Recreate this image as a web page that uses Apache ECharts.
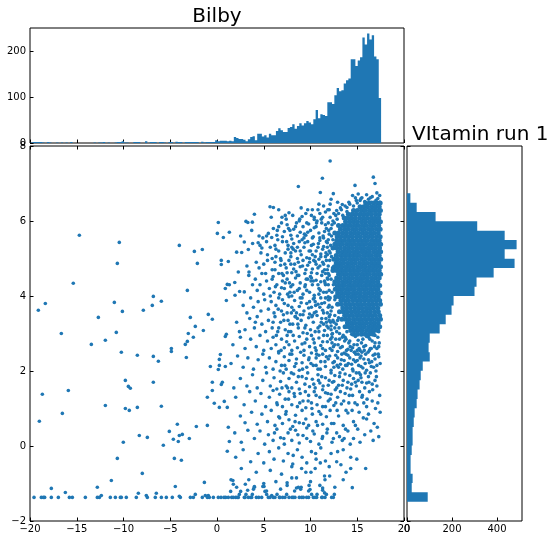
<!DOCTYPE html>
<html><head><meta charset="utf-8">
<script src="https://cdn.jsdelivr.net/npm/echarts@6/dist/echarts.min.js"></script>
<style>html,body{margin:0;padding:0;background:#fff}#c{width:556px;height:541px}</style>
</head><body><div id="c"></div>
<script>
const topTitle = 'Bilby';
const sideTitle = 'VItamin run 1';
const BLUE = '#1f77b4';

// top histogram (x = Bilby), 150 bins of width 0.25 starting at -19.95
const topBinStart = -19.95;
const topBinWidth = 0.25;
const topCounts = [
 1,2,2,2,2,1,0,2,1,0, 0,1,0,1,0,1,0,2,0,0, 0,0,0,0,0,0,0,1,0,1, 1,2,0,1,0,0,1,2,2,4,
 1,1,0,0,2,2,2,0,0,4, 0,2,2,2,0,2,2,1,0,2, 2,0,3,2,2,0,2,2,2,2, 2,2,0,3,1,2,2,2,2,6,
 4,5,5,5,4,5,4,13,11,9, 9,7,4,8,13,15,6,20,20,14, 17,12,20,17,17,26,32,28,24,24,
 33,35,41,31,37,43,38,43,48,45, 41,52,72,54,63,61,59,89,89,85,
 104,120,113,115,130,137,141,183,183,168, 180,187,230,215,239,226,235,189,183,98
];
// right histogram (y = VItamin), 33 bins from bottom
const rightBinStart = -1.485;
const rightBinWidth = 0.2492;
const rightCounts = [92,21,25,16,16,21,25,25,30,34,43,47,56,61,70,101,96,101,145,172,198,207,300,309,385,478,434,487,434,312,127,43,15];

// axis ranges [min, max, interval]
const xRange = [-20, 20, 5];
const yRange = [-2, 8, 2];
const topCountRange = [0, 251, 100];
const rightCountRange = [0, 511, 200];

// scatter points [bilby, vitamin]
const leftPts = [[-19.11,3.62],[-19.0,0.66],[-18.68,1.38],[-18.36,3.8],[-19.57,-1.37],[-18.79,-1.37],[-18.57,-1.37],[-18.43,-1.37],[-17.72,-1.13],[-17.72,-1.37],[-16.97,-1.37],[-16.65,3.0],[-16.54,0.87],[-16.22,-1.24],[-15.9,1.48],[-15.79,-1.37],[-15.47,-1.37],[-15.37,4.34],[-14.72,5.62],[-14.08,-1.37],[-13.44,2.71],[-12.8,-1.1],[-12.8,-1.37],[-12.58,-1.37],[-12.37,-1.32],[-12.69,3.43],[-11.94,2.82],[-11.94,1.08],[-11.3,-0.92],[-11.41,-1.37],[-10.98,3.83],[-10.87,-1.37],[-10.77,3.03],[-10.66,4.87],[-10.66,-0.33],[-10.45,5.43],[-10.34,-1.37],[-10.23,-1.37],[-10.23,2.5],[-10.12,3.59],[-10.02,0.1],[-9.8,1.75],[-9.8,1.0],[-9.7,-1.37],[-9.48,1.59],[-9.38,0.95],[-9.27,1.54],[-8.63,-1.37],[-8.52,2.42],[-8.52,1.03],[-8.41,-1.26],[-8.31,0.28],[-7.99,-0.73],[-7.88,3.62],[-7.56,-1.32],[-7.45,-1.37],[-7.45,0.23],[-6.92,3.75],[-6.81,3.99],[-6.81,2.39],[-6.81,1.7],[-6.6,-1.37],[-6.49,-1.26],[-6.27,2.26],[-5.95,3.86],[-5.95,1.06],[-5.95,-1.37],[-5.74,0.02],[-5.42,-1.37],[-5.1,0.39],[-4.88,2.6],[-4.88,2.52],[-4.78,-1.37],[-4.67,0.18],[-4.56,-0.33],[-4.46,-1.08],[-4.24,0.58],[-4.14,0.12],[-4.03,5.35],[-4.03,0.28],[-4.03,-1.34],[-3.92,-1.37],[-3.81,-0.38],[-3.71,0.31],[-3.39,2.71],[-3.28,2.36],[-3.17,4.15],[-3.17,2.79],[-3.07,3.0],[-2.96,0.2],[-2.85,3.43],[-2.85,-1.37],[-2.53,-1.37],[-2.53,2.9],[-2.42,5.19],[-2.32,3.19],[-2.32,-1.29],[-2.21,0.52],[-2.1,4.87],[-1.57,5.24],[-1.57,-1.37],[-1.46,3.08],[-1.35,-0.97],[-1.25,-1.32],[-1.03,-1.37],[-0.93,-1.32],[-0.82,-1.37],[-1.03,0.55],[-1.03,1.3],[-0.93,3.51],[-0.71,2.12],[-0.5,3.38],[-0.5,1.7],[-0.5,1.48],[-0.39,-1.37],[-0.29,1.14],[0.04,5.67],[0.14,5.96],[0.14,2.04],[0.25,2.31],[0.25,2.15],[0.25,1.03],[0.36,2.44],[0.46,4.95],[0.46,4.84],[0.46,1.64],[0.57,1.7],[0.68,5.56],[0.78,1.19],[0.89,4.2],[0.89,2.12],[0.89,2.92],[1.0,3.88],[1.0,2.98],[1.1,4.31],[1.1,1.03],[1.21,4.92],[1.21,0.5],[1.32,5.7],[1.32,4.3],[1.32,0.12],[1.1,-0.14]];

const floorPts = [[0.14,-1.37],[0.43,-1.37],[0.75,-1.37],[0.93,-1.37],[1.21,-1.37],[1.46,-1.21],[1.57,-1.37],[1.74,-1.37],[2.0,-1.37],[2.17,-1.37],[2.28,-1.37],[2.39,-1.29],[2.53,-1.21],[2.92,-1.37],[3.0,-1.37],[3.1,-1.29],[3.28,-1.18],[3.35,-1.37],[3.6,-1.37],[3.71,-1.37],[3.78,-1.29],[4.0,-1.08],[4.21,-1.37],[4.46,-1.37],[4.78,-1.37],[5.03,-1.08],[5.13,-1.21],[5.31,-1.29],[5.49,-1.37],[5.67,-1.37],[5.85,-1.32],[6.02,-1.37],[6.2,-1.37],[6.42,-1.29],[6.67,-1.37],[6.74,-1.37],[7.02,-1.37],[7.27,-1.37],[7.45,-1.29],[7.7,-1.37],[8.02,-1.37],[8.16,-1.37],[8.34,-1.37],[8.7,-1.1],[8.8,-1.37],[9.06,-1.37],[9.23,-1.37],[9.59,-1.37],[9.8,-1.37],[9.95,-1.16],[10.12,-1.29],[10.3,-1.37],[10.48,-1.37],[10.66,-1.37],[10.7,-1.29],[11.2,-1.37],[11.27,-1.37],[11.55,-1.37],[11.7,-1.29],[12.26,-1.37],[12.44,-1.37],[12.55,-1.29],[1.7,-0.92],[1.75,-1.02],[3.03,-1.02],[4.0,-1.1],[4.9,-1.08],[7.5,-0.98],[8.0,-0.85],[8.5,-1.12],[8.95,-1.15],[9.85,-1.05],[11.3,-1.12],[11.5,-1.25],[14.47,-1.11]];

const upperPts = [[12.1,7.6],[11.27,7.14],[16.72,7.17],[16.9,7.0],[8.7,6.92],[11.05,6.76],[14.76,6.95],[12.44,6.73],[14.5,6.68],[14.8,6.62],[15.1,6.72],[15.5,6.62],[15.3,6.55],[12.2,6.58],[16.2,6.58],[16.5,6.5],[17.2,6.6],[13.4,6.44],[13.9,6.36],[5.67,6.38],[6.03,6.36],[4.0,6.18],[7.7,6.22],[9.1,6.12],[10.1,6.15],[10.4,6.04],[11.0,6.2],[11.6,6.24],[12.0,6.3],[12.8,6.28],[13.2,6.35],[14.2,6.45],[14.6,6.4],[15.0,6.48],[15.8,6.52],[16.4,6.62],[17.0,6.55],[17.4,6.5],
[3.1,5.99],[3.78,5.97],[3.3,5.96],[4.5,5.6],[3.71,5.75],[2.53,5.6],[5.49,5.67],[5.85,5.56],[6.03,5.8],[6.6,5.85],[6.9,5.95],[7.2,5.72],[7.5,5.9],[7.9,5.62],[8.2,5.78],[8.5,5.95],[8.9,5.7],[9.2,5.85],[9.5,5.62],[9.8,5.92],[10.0,5.75],[10.3,5.58],[10.6,5.85],[10.9,5.68],[11.2,5.95],[11.4,5.55],[11.7,5.8],[12.0,5.65],[12.3,5.9],[6.4,5.62],[8.0,5.52],[9.3,5.55],[7.0,5.58],[10.7,6.0],
[2.92,5.44],[3.81,5.4],[3.35,5.24],[2.1,5.17],[2.64,5.16],[4.6,5.35],[4.8,5.28],[4.7,5.15],[4.4,5.42],[5.4,5.1],[5.9,5.0],[5.3,5.45],[6.2,5.35],[6.6,5.2],[6.3,5.05],[7.0,5.45],[7.3,5.15],[7.6,5.35],[7.9,5.05],[8.2,5.4],[8.4,5.2],[8.8,5.45],[9.0,5.1],[9.3,5.3],[9.6,5.02],[9.7,5.45],[10.0,5.2],[10.3,5.38],[10.5,5.05],[10.8,5.3],[11.0,5.48],[11.1,5.12],[11.4,5.32],[11.6,5.05],[11.8,5.42],[12.0,5.2],[6.8,5.0],[8.6,5.0],[9.9,5.0],[5.7,5.3],[10.2,5.1],
[3.42,4.64],[2.28,4.64],[3.2,4.8],[4.2,4.9],[4.5,4.75],[4.8,4.6],[5.0,4.85],[5.4,4.95],[5.2,4.6],[5.9,4.7],[6.2,4.9],[6.6,4.6],[6.8,4.82],[7.1,4.55],[7.4,4.75],[7.7,4.95],[8.0,4.62],[8.3,4.85],[8.6,4.55],[8.9,4.78],[9.2,4.95],[9.4,4.6],[9.7,4.82],[10.0,4.52],[10.2,4.72],[10.5,4.92],[10.7,4.6],[11.0,4.8],[11.2,4.55],[11.5,4.7],[11.7,4.95],[11.9,4.6],[6.0,4.52],[7.9,4.85],[9.9,4.9],[10.9,4.98],[11.3,4.9],
[1.9,4.36],[2.42,4.12],[2.92,4.11],[1.93,4.02],[3.8,4.3],[4.1,4.45],[4.3,4.15],[4.6,4.3],[5.0,4.05],[5.3,4.4],[5.6,4.2],[5.9,4.45],[6.1,4.1],[6.4,4.3],[6.7,4.05],[7.0,4.4],[7.2,4.2],[7.5,4.45],[7.8,4.1],[8.1,4.3],[8.4,4.48],[8.6,4.15],[8.9,4.35],[9.2,4.05],[9.4,4.25],[9.7,4.45],[9.9,4.1],[10.2,4.3],[10.4,4.02],[10.6,4.42],[10.9,4.2],[11.1,4.38],[11.4,4.1],[11.6,4.3],[11.8,4.48],[12.0,4.15],[8.0,4.0],[6.9,4.22],[10.1,4.48]];

const middlePts = [[3.2,3.55],[3.6,3.95],[3.9,3.7],[4.4,3.85],[4.7,3.6],[5.1,3.9],[5.5,3.65],[5.8,3.85],[6.1,3.55],[6.3,3.75],[6.6,3.95],[6.9,3.6],[7.2,3.8],[7.5,3.55],[7.7,3.98],[8.0,3.7],[8.3,3.88],[8.5,3.55],[8.8,3.72],[9.1,3.95],[9.3,3.6],[9.6,3.8],[9.9,3.52],[10.1,3.7],[10.3,3.92],[10.6,3.58],[10.8,3.78],[11.1,3.95],[11.3,3.62],[11.5,3.82],[11.8,3.55],[12.0,3.75],[7.0,3.9],[8.9,3.5],[10.5,3.85],[11.9,3.98],
[2.1,3.3],[3.0,3.1],[3.5,3.4],[4.0,3.15],[4.3,3.45],[4.8,3.25],[5.2,3.05],[5.5,3.35],[5.9,3.15],[6.2,3.45],[6.5,3.05],[6.8,3.3],[7.1,3.5],[7.3,3.1],[7.6,3.35],[7.9,3.05],[8.1,3.25],[8.4,3.45],[8.7,3.15],[9.0,3.35],[9.2,3.02],[9.5,3.22],[9.8,3.42],[10.0,3.1],[10.3,3.3],[10.5,3.05],[10.7,3.48],[11.0,3.2],[11.2,3.4],[11.5,3.08],[11.7,3.3],[12.0,3.45],[12.2,3.1],[12.5,3.3],[12.8,3.05],[13.0,3.42],[12.6,3.48],
[1.7,2.7],[2.5,2.9],[3.0,2.6],[3.6,2.85],[4.2,2.65],[4.6,2.95],[5.0,2.55],[5.4,2.8],[5.8,2.6],[6.0,2.9],[6.3,2.7],[6.6,2.52],[6.9,2.85],[7.2,2.62],[7.5,2.95],[7.7,2.7],[8.0,2.55],[8.3,2.8],[8.6,2.62],[8.8,2.92],[9.1,2.72],[9.3,2.55],[9.6,2.85],[9.9,2.65],[10.1,2.95],[10.4,2.75],[10.6,2.55],[10.9,2.88],[11.1,2.68],[11.4,2.95],[11.6,2.55],[11.8,2.78],[12.1,2.6],[12.3,2.9],[12.6,2.7],[12.9,2.52],[13.1,2.85],[13.4,2.65],[13.7,2.9],[14.0,2.58],[14.2,2.8],[14.5,2.62],[14.8,2.92],[15.0,2.7],[15.3,2.55],[15.6,2.85],[15.9,2.68],[16.2,2.9],[16.5,2.6],[16.9,2.75],[17.3,2.65],
[1.5,2.2],[2.2,2.4],[2.8,2.1],[3.3,2.35],[3.9,2.05],[4.4,2.3],[4.9,2.45],[5.2,2.1],[5.6,2.35],[6.0,2.05],[6.3,2.25],[6.6,2.48],[6.9,2.15],[7.2,2.38],[7.4,2.05],[7.7,2.28],[8.0,2.45],[8.3,2.12],[8.5,2.32],[8.8,2.02],[9.1,2.22],[9.3,2.42],[9.6,2.1],[9.8,2.3],[10.1,2.48],[10.3,2.15],[10.6,2.35],[10.8,2.05],[11.1,2.25],[11.3,2.45],[11.6,2.12],[11.9,2.32],[12.2,2.02],[12.4,2.22],[12.7,2.42],[13.0,2.1],[13.3,2.3],[13.6,2.48],[13.9,2.15],[14.2,2.35],[14.5,2.05],[14.8,2.25],[15.1,2.45],[15.4,2.12],[15.7,2.32],[16.0,2.02],[16.3,2.22],[16.7,2.42],[17.1,2.15],[17.0,2.0]];

const lowerPts = [[1.8,1.55],[2.5,1.8],[3.2,1.6],[3.8,1.9],[4.3,1.55],[4.9,1.75],[5.3,1.95],[5.7,1.6],[6.1,1.82],[6.4,1.52],[6.8,1.72],[7.1,1.95],[7.4,1.6],[7.7,1.8],[8.0,1.55],[8.2,1.92],[8.5,1.7],[8.8,1.52],[9.1,1.85],[9.4,1.65],[9.7,1.95],[9.9,1.58],[10.2,1.78],[10.5,1.55],[10.8,1.9],[11.0,1.68],[11.3,1.5],[11.6,1.82],[11.9,1.62],[12.2,1.95],[12.5,1.72],[12.8,1.55],[13.1,1.85],[13.4,1.62],[13.7,1.92],[14.0,1.7],[14.3,1.52],[14.6,1.8],[14.9,1.6],[15.2,1.95],[15.5,1.7],[15.8,1.55],[16.2,1.85],[16.6,1.65],[17.1,1.6],
[2.0,1.3],[2.9,1.1],[3.5,1.45],[4.1,1.2],[4.7,1.4],[5.2,1.05],[5.6,1.3],[6.0,1.48],[6.4,1.15],[6.7,1.38],[7.0,1.05],[7.3,1.25],[7.7,1.45],[8.0,1.1],[8.3,1.32],[8.6,1.05],[8.9,1.4],[9.2,1.2],[9.5,1.02],[9.8,1.35],[10.1,1.15],[10.4,1.45],[10.7,1.1],[11.0,1.3],[11.3,1.05],[11.6,1.42],[11.9,1.2],[12.2,1.38],[12.5,1.08],[12.9,1.3],[13.3,1.12],[13.7,1.4],[14.1,1.15],[14.5,1.35],[15.0,1.1],[15.5,1.3],[16.0,1.05],[16.6,1.2],[17.2,1.15],
[2.5,0.8],[3.0,0.62],[3.7,0.9],[4.3,0.58],[4.8,0.85],[5.4,0.65],[5.8,0.95],[6.2,0.55],[6.6,0.78],[7.0,0.6],[7.4,0.92],[7.7,0.7],[8.1,0.52],[8.4,0.82],[8.8,0.62],[9.1,0.95],[9.5,0.72],[9.8,0.55],[10.2,0.85],[10.6,0.65],[10.9,0.92],[11.3,0.58],[11.7,0.78],[12.1,0.95],[12.5,0.6],[13.0,0.8],[13.5,0.55],[14.0,0.88],[14.6,0.65],[15.2,0.9],[16.0,0.72],[16.8,0.6],
[1.9,0.35],[2.6,0.1],[3.3,0.42],[4.0,0.2],[4.6,0.4],[5.1,0.05],[5.5,0.3],[6.0,0.15],[6.4,0.45],[6.8,0.22],[7.2,0.05],[7.6,0.35],[8.0,0.15],[8.4,0.42],[8.8,0.08],[9.2,0.28],[9.6,0.48],[10.0,0.12],[10.4,0.32],[10.9,0.05],[11.3,0.25],[11.8,0.45],[12.3,0.1],[12.8,0.35],[13.4,0.15],[14.0,0.4],[14.6,0.2],[15.3,0.1],
[2.0,-0.3],[2.8,-0.1],[3.6,-0.42],[4.4,-0.2],[5.0,-0.45],[5.6,-0.15],[6.1,-0.35],[6.6,-0.05],[7.1,-0.4],[7.6,-0.2],[8.1,-0.48],[8.6,-0.1],[9.1,-0.3],[9.6,-0.45],[10.1,-0.15],[10.6,-0.35],[11.1,-0.05],[11.6,-0.4],[12.2,-0.2],[12.8,-0.42],[13.5,-0.1],[14.3,-0.3],
[2.6,-0.6],[3.4,-0.9],[4.2,-0.7],[5.0,-1.0],[5.7,-0.65],[6.3,-0.95],[6.9,-0.75],[7.5,-1.05],[8.0,-0.55],[8.5,-0.85],[9.0,-1.1],[9.5,-0.7],[10.0,-0.95],[10.5,-0.6],[11.0,-1.05],[11.5,-0.8],[12.0,-0.55],[12.6,-1.1],[13.5,-0.9],[14.3,-0.6],[1.5,-0.9],[2.1,-1.1],[3.9,-1.15],[5.3,-1.2],[6.8,-1.15],[8.3,-1.2],[9.8,-1.2],[11.3,-1.18]];

const extraPts = [[12.3,2.55],[12.7,2.85],[13.2,2.62],[13.5,2.95],[13.8,2.45],[14.1,2.75],[14.4,2.98],[14.7,2.5],[15.1,2.82],[15.4,2.4],[15.7,2.65],[16.0,2.92],[16.3,2.55],[16.6,2.8],[16.9,2.45],[17.2,2.9],[12.5,2.1],[12.9,2.35],[13.2,2.18],[13.6,2.28],[14.0,2.42],[14.4,2.18],[14.7,2.5],[15.0,2.28],[15.3,2.35],[15.6,2.08],[15.9,2.45],[16.2,2.3],[16.5,2.12],[16.9,2.32],[17.3,2.38],[12.0,1.75],[12.6,1.88],[13.0,1.62],[13.5,1.75],[14.2,1.88],[14.8,1.7],[15.4,1.82],[16.0,1.68],[16.4,1.95],[10.5,2.62],[10.9,2.42],[11.3,2.78],[11.7,2.38],[11.2,1.85],[10.6,2.15],[13.9,3.05],[14.6,3.1],[15.5,3.05],[16.5,3.0],[12.3,2.98],[15.2,2.6],
[7.4,6.05],[8.1,6.15],[8.8,6.0],[9.5,6.2],[10.2,6.3],[10.8,6.3],[11.3,6.1],[7.8,5.75],[8.6,5.6],[9.1,5.5],[9.7,5.7],[10.4,5.82],[11.0,5.55],[11.5,5.72],[7.6,5.25],[8.0,5.3],[8.9,5.2],[9.4,5.42],[10.1,5.35],[10.6,5.2],[11.3,5.25],[11.8,5.1],[7.5,4.62],[8.2,4.72],[8.7,4.9],[9.5,4.7],[10.1,4.62],[10.8,4.75],[11.4,4.85],[11.9,4.8],[7.3,4.35],[7.9,4.25],[8.8,4.2],[9.6,4.15],[10.3,4.4],[10.9,4.05],[11.5,4.4],[11.9,4.3],[7.6,3.75],[8.2,3.62],[9.0,3.82],[9.8,3.68],[10.4,3.55],[11.0,3.7],[11.6,3.95],[11.2,3.8],[7.8,3.25],[8.6,3.4],[9.4,3.15],[10.2,3.48],[10.8,3.15],[11.4,3.25],[11.9,3.15],[12.2,3.6],[12.4,3.35],[6.5,5.5],[6.2,4.7],[5.7,4.0],[6.0,3.3],[5.3,5.6],[4.9,5.55],[5.8,6.1],[6.6,6.3],[9.0,6.35],[3.4,4.55],[2.8,3.75],[4.1,3.3],[2.4,3.05],
[11.9,5.95],[12.1,6.1],[12.4,6.0],[12.7,6.15],[13.0,6.2],[13.3,6.3],[13.7,6.4],[14.1,6.5],[14.9,6.55],[15.4,6.6],[16.0,6.7],[16.6,6.65],[17.1,6.75],[17.4,6.68],[11.8,5.3],[11.6,4.6],[11.7,4.1],[11.9,3.7],[12.1,3.5],[12.2,3.2],[12.6,3.15],[12.9,3.35],[13.1,3.0],[13.4,2.9],[13.8,2.85],[16.9,2.95],[17.3,3.05]];

const fillPts = [[6.15,0.35],[6.45,1.1],[6.75,2.0],[6.35,2.95],[6.55,3.65],[6.25,4.25],[6.85,4.95],[6.45,5.75],[6.95,6.1],[6.7,0.75],[6.95,1.55],[6.85,2.55],[6.6,3.15],[6.95,4.6],[6.3,5.25],
[7.15,0.2],[7.35,0.85],[7.55,1.55],[7.25,2.15],[7.45,2.78],[7.15,3.35],[7.55,4.05],[7.25,4.85],[7.45,5.45],[7.3,6.15],[7.85,0.45],[7.65,1.25],[7.95,1.95],[7.8,2.45],[7.65,3.05],[7.95,3.55],[7.75,4.35],[7.9,5.15],[7.65,5.8],
[8.15,-0.25],[8.35,0.65],[8.25,1.4],[8.45,2.2],[8.15,2.95],[8.35,3.45],[8.25,4.1],[8.45,4.65],[8.15,5.25],[8.4,5.85],[8.65,0.3],[8.85,1.15],[8.7,1.85],[8.95,2.5],[8.65,3.25],[8.9,3.95],[8.75,4.55],[8.6,5.3],[8.85,6.05],
[9.05,-0.6],[9.25,0.6],[9.45,1.45],[9.15,2.05],[9.4,2.75],[9.2,3.5],[9.45,4.3],[9.15,4.8],[9.35,5.65],[9.6,0.2],[9.75,1.2],[9.55,1.8],[9.85,2.35],[9.65,3.0],[9.9,3.85],[9.55,4.45],[9.85,5.2],[9.6,5.95],[9.7,6.3],
[10.05,-0.7],[10.25,0.4],[10.15,1.0],[10.35,1.65],[10.05,2.2],[10.3,2.85],[10.15,3.45],[10.4,3.95],[10.05,4.4],[10.35,4.95],[10.2,5.55],[10.4,6.1],
[10.55,-0.2],[10.75,0.55],[10.6,1.35],[10.85,1.75],[10.65,2.45],[10.9,3.05],[10.55,3.75],[10.8,4.3],[10.6,4.85],[10.85,5.4],[10.65,5.95],[10.9,6.45],
[11.05,-0.45],[11.25,0.2],[11.1,0.85],[11.35,1.6],[11.05,2.05],[11.3,2.6],[11.15,3.3],[11.4,3.55],[11.05,4.15],[11.3,4.65],[11.1,5.05],[11.35,5.6],[11.15,6.05],[11.4,6.4],
[11.55,-0.9],[11.75,0.35],[11.6,1.05],[11.85,1.4],[11.55,2.25],[11.8,2.95],[11.65,3.4],[11.9,3.9],[11.55,4.35],[11.8,4.7],[11.65,5.15],[11.9,5.5],[11.6,5.9],[11.85,6.3],
[12.05,-0.8],[12.25,0.6],[12.1,1.25],[12.35,1.7],[12.05,2.4],[12.3,2.75],[12.15,3.3],[12.0,3.9],[12.2,4.45],[12.05,4.95],[12.25,5.6],[12.1,6.45],[12.3,4.1],[12.15,5.35],
[12.45,0.2],[12.65,1.5],[12.55,2.25],[12.75,3.25],[12.6,3.9],[12.5,6.2],[12.9,6.5],[12.85,0.95],[12.95,2.7],[13.05,3.15],[12.2,5.8],[12.25,5.05],[12.0,4.55],[12.3,3.7],[12.1,3.95],
[13.25,-0.5],[13.75,0.45],[13.55,1.2],[13.9,1.55],[13.45,2.05],[13.85,2.55],[14.25,0.05],[14.45,0.95],[14.15,1.35],[14.55,2.0],[14.35,2.55],[14.75,1.15],[14.9,1.95],[14.65,2.7],[15.05,0.45],[15.25,1.45],[15.15,2.15],[15.45,2.75],[15.65,0.75],[15.55,1.35],[15.85,1.95],[15.75,2.55],[16.05,1.25],[16.25,1.7],[16.15,2.5],[16.45,0.4],[16.65,1.5],[16.55,2.25],[16.85,2.65],[16.95,1.0],[17.05,1.85],[17.25,2.45],[17.4,1.35],[17.35,2.75],[13.15,1.95],[13.65,2.8],[14.05,2.2],[14.85,2.45],[15.35,1.9],[16.35,2.85],[13.1,0.25],[14.95,-0.35],[15.8,0.3],[16.7,0.15],[17.15,0.5],[13.8,-0.7],[12.9,-0.15],[15.9,-0.6],
[12.15,2.85],[12.45,2.65],[12.85,2.15],[13.35,2.45],[13.75,2.15],[14.25,2.65],[14.6,2.3],[15.0,2.55],[15.5,2.5],[15.85,2.2],[16.4,2.6],[16.75,2.1],[17.1,2.6],[17.45,2.2],[12.7,1.15],[13.2,1.45],[13.8,0.95],[14.4,1.65],[15.1,1.75],[15.7,1.15],[16.3,1.45],[16.9,1.75],[17.45,0.9],[13.6,0.2],[14.8,0.55],[16.2,0.85],[17.3,0.25],[11.95,5.75],[12.1,5.15],[11.85,4.45],[12.0,3.35],[12.35,3.0],[11.7,5.45],[11.75,3.2],[12.45,4.3],[12.35,4.75],[12.4,5.5],[12.55,5.95],[12.85,6.05],[13.45,6.15],[13.9,6.25]];

// dense core: each row = [vitamin, bilby values...]
const coreRows = [
 [6.48, 15.9,16.3,16.75,17.15,17.45],
 [6.38, 15.3,15.7,16.1,16.55,16.95,17.35],
 [6.28, 14.6,15.0,15.45,15.85,16.3,16.7,17.1,17.48],
 [6.18, 14.05,14.45,14.85,15.3,15.7,16.1,16.5,16.95,17.35],
 [6.08, 13.6,14.0,14.4,14.8,15.25,15.65,16.05,16.5,16.9,17.3],
 [5.98, 13.75,14.2,14.6,15.0,15.45,15.85,16.3,16.7,17.1,17.48],
 [5.88, 13.0,13.45,13.9,14.3,14.75,15.15,15.6,16.0,16.45,16.85,17.3],
 [5.78, 13.2,13.65,14.05,14.5,14.9,15.35,15.75,16.2,16.6,17.05,17.45],
 [5.68, 12.6,13.0,13.45,13.85,14.3,14.7,15.1,15.55,15.95,16.4,16.8,17.25],
 [5.58, 12.85,13.25,13.7,14.1,14.5,14.95,15.35,15.8,16.2,16.6,17.05,17.45],
 [5.48, 12.8,13.2,13.6,14.05,14.45,14.85,15.3,15.7,16.1,16.55,16.95,17.35],
 [5.38, 12.6,13.0,13.4,13.85,14.25,14.65,15.1,15.5,15.9,16.35,16.75,17.15,17.5],
 [5.28, 12.4,12.8,13.2,13.65,14.05,14.45,14.9,15.3,15.7,16.15,16.55,16.95,17.38],
 [5.18, 12.95,13.4,13.8,14.2,14.65,15.05,15.5,15.9,16.3,16.75,17.15,17.5],
 [5.08, 12.75,13.2,13.6,14.0,14.45,14.85,15.25,15.7,16.1,16.5,16.95,17.35],
 [4.98, 12.5,12.9,13.35,13.75,14.2,14.6,15.0,15.45,15.85,16.3,16.7,17.1,17.5],
 [4.88, 12.75,13.15,13.55,14.0,14.4,14.8,15.25,15.65,16.05,16.5,16.9,17.3],
 [4.78, 12.55,12.95,13.35,13.8,14.2,14.6,15.05,15.45,15.85,16.3,16.7,17.1,17.48],
 [4.68, 12.4,12.8,13.2,13.6,14.0,14.45,14.85,15.25,15.7,16.1,16.5,16.9,17.35],
 [4.58, 13.0,13.4,13.8,14.25,14.65,15.05,15.5,15.9,16.3,16.75,17.15,17.5],
 [4.48, 12.8,13.2,13.65,14.05,14.45,14.9,15.3,15.7,16.1,16.55,16.95,17.35],
 [4.38, 12.6,13.0,13.45,13.85,14.25,14.7,15.1,15.5,15.95,16.35,16.75,17.2],
 [4.28, 12.85,13.25,13.65,14.1,14.5,14.9,15.3,15.75,16.15,16.55,17.0,17.4],
 [4.18, 12.65,13.05,13.45,13.9,14.3,14.7,15.15,15.55,15.95,16.4,16.8,17.2],
 [4.08, 12.9,13.3,13.7,14.1,14.55,14.95,15.35,15.8,16.2,16.6,17.05,17.45],
 [3.98, 12.7,13.1,13.5,13.95,14.35,14.75,15.2,15.6,16.0,16.45,16.85,17.25],
 [3.88, 13.25,13.65,14.05,14.5,14.9,15.3,15.75,16.15,16.55,17.0,17.4],
 [3.78, 12.9,13.3,13.75,14.15,14.55,15.0,15.4,15.8,16.25,16.65,17.05,17.48],
 [3.68, 13.45,13.85,14.25,14.7,15.1,15.5,15.95,16.35,16.75,17.2],
 [3.58, 13.1,13.5,13.9,14.35,14.75,15.15,15.6,16.0,16.4,16.85,17.25],
 [3.48, 13.65,14.05,14.45,14.9,15.3,15.7,16.15,16.55,16.95,17.4],
 [3.38, 13.35,13.75,14.15,14.6,15.0,15.4,15.85,16.25,16.65,17.1,17.48],
 [3.28, 13.95,14.35,14.75,15.2,15.6,16.0,16.45,16.85,17.25],
 [3.18, 13.7,14.1,14.5,14.95,15.35,15.75,16.2,16.6,17.0,17.4],
 [3.08, 14.3,14.75,15.15,15.55,16.0,16.4,16.8,17.2],
 [2.98, 14.6,15.0,15.45,15.85,16.25,16.7]
];

// ---- build ----
const corePts = [];
coreRows.forEach(r => r.slice(1).forEach(x => corePts.push([x, r[0]])));
const topData = topCounts.map((c, i) => [topBinStart + i * topBinWidth, c, topBinStart + (i + 1) * topBinWidth]);
const rightData = rightCounts.map((c, i) => [rightBinStart + i * rightBinWidth, c, rightBinStart + (i + 1) * rightBinWidth]);

const minus = v => (v < 0 ? '\u2212' + Math.abs(v) : String(v));
const labelStyle = {color: '#000', fontSize: 10, fontFamily: 'DejaVu Sans'};
const tick = {show: true, inside: true, length: 3.5, lineStyle: {color: '#000', width: 1}};
function axis(gi, pos, range, showLabel, labelExtra) {
  return {
    type: 'value', gridIndex: gi, position: pos,
    min: range[0], max: range[1], interval: range[2],
    axisLine: {show: false, onZero: false}, splitLine: {show: false},
    axisTick: tick,
    axisLabel: Object.assign({show: showLabel, formatter: minus, margin: 4}, labelStyle, labelExtra || {})
  };
}

// each histogram is drawn as one seamless step outline through the axis scales
function topOutline(params, api) {
  if (params.dataIndex !== 0) return null;
  const pts = [api.coord([topData[0][0], 0])];
  topData.forEach(d => { pts.push(api.coord([d[0], d[1]])); pts.push(api.coord([d[2], d[1]])); });
  pts.push(api.coord([topData[topData.length - 1][2], 0]));
  return {type: 'polygon', shape: {points: pts}, style: {fill: BLUE}};
}
function rightOutline(params, api) {
  if (params.dataIndex !== 0) return null;
  const pts = [api.coord([0, rightData[0][0]])];
  rightData.forEach(d => { pts.push(api.coord([d[1], d[0]])); pts.push(api.coord([d[1], d[2]])); });
  pts.push(api.coord([0, rightData[rightData.length - 1][2]]));
  return {type: 'polygon', shape: {points: pts}, style: {fill: BLUE}};
}

const chart = echarts.init(document.getElementById('c'), null, {renderer: 'canvas'});
const gridStyle = {show: true, borderColor: '#000', borderWidth: 1, backgroundColor: 'transparent', containLabel: false};
chart.setOption({
  animation: false,
  backgroundColor: '#fff',
  graphic: [
    {type: 'text', x: 217, y: 6.5, z: 10, style: {text: topTitle, fill: '#000', font: '20px "DejaVu Sans"', textAlign: 'center', align: 'center', textVerticalAlign: 'top', verticalAlign: 'top'}},
    {type: 'text', x: 412, y: 125, z: 10, style: {text: sideTitle, fill: '#000', font: '20px "DejaVu Sans"', textAlign: 'left', align: 'left', textVerticalAlign: 'top', verticalAlign: 'top'}}
  ],
  grid: [
    Object.assign({left: 30, top: 28, width: 374, height: 115}, gridStyle),
    Object.assign({left: 30, top: 146, width: 374, height: 375}, gridStyle),
    Object.assign({left: 407, top: 146, width: 115, height: 375}, gridStyle)
  ],
  xAxis: [
    axis(0, 'bottom', xRange, false),
    axis(1, 'bottom', xRange, true, {margin: 3}),
    axis(1, 'top', xRange, false),
    axis(2, 'bottom', rightCountRange, true, {margin: 3, showMaxLabel: false})
  ],
  yAxis: [
    axis(0, 'left', topCountRange, true, {showMaxLabel: false}),
    axis(1, 'left', yRange, true),
    axis(1, 'right', yRange, false),
    axis(2, 'left', yRange, false)
  ],
  series: [
    {type: 'custom', xAxisIndex: 0, yAxisIndex: 0, data: topData, encode: {x: [0, 2], y: 1}, clip: true, renderItem: topOutline},
    {type: 'custom', xAxisIndex: 3, yAxisIndex: 3, data: rightData, encode: {y: [0, 2], x: 1}, clip: true, renderItem: rightOutline},
    {type: 'scatter', xAxisIndex: 1, yAxisIndex: 1, data: corePts, symbolSize: 5, itemStyle: {color: BLUE, opacity: 1}, progressive: 0, large: false, silent: true},
    {type: 'scatter', xAxisIndex: 1, yAxisIndex: 1, data: leftPts.concat(floorPts, upperPts, middlePts, lowerPts, extraPts, fillPts), symbolSize: 3.6, itemStyle: {color: BLUE, opacity: 1}, progressive: 0, large: false, silent: true}
  ]
});
</script>
</body></html>
